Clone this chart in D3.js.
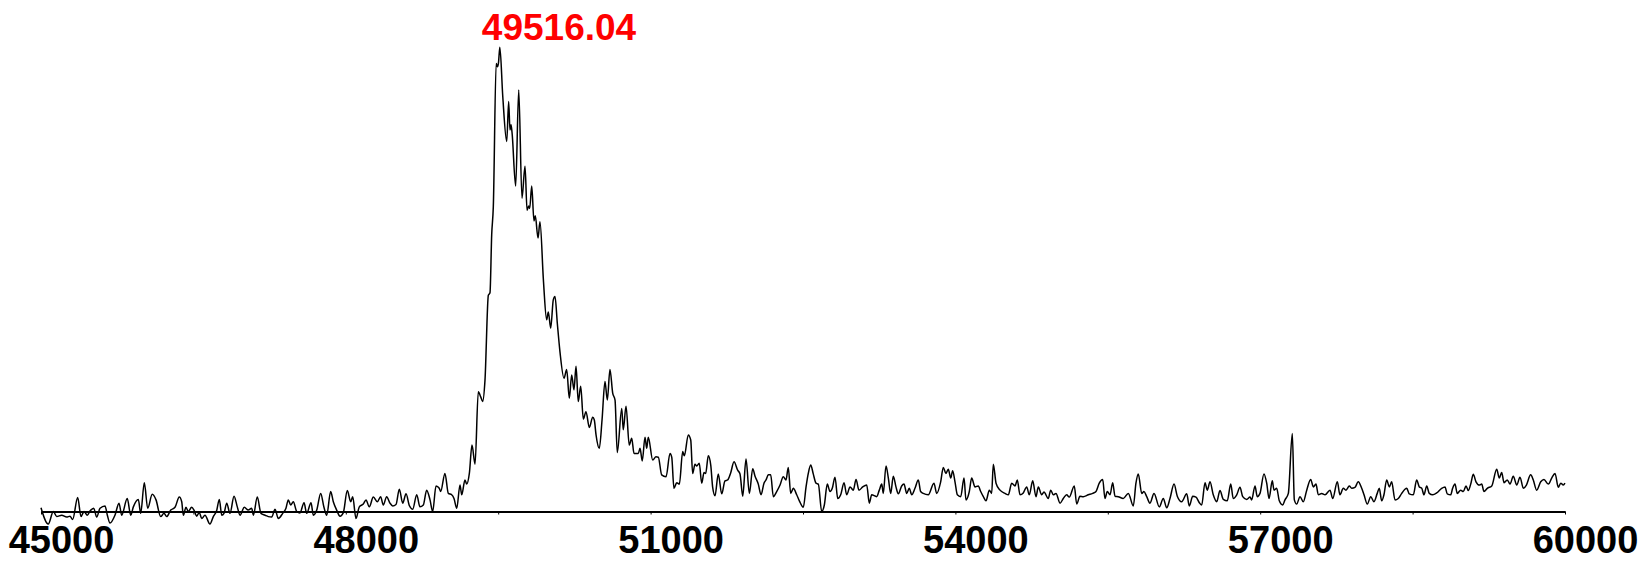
<!DOCTYPE html>
<html>
<head>
<meta charset="utf-8">
<script src="https://cdn.jsdelivr.net/npm/d3@7"></script>
<style>
  html, body { margin: 0; padding: 0; background: #fff; }
  svg { display: block; }
  .tick-label { font-family: "Liberation Sans", Arial, Helvetica, sans-serif; font-weight: bold; }
</style>
</head>
<body>
<svg id="chart" width="1649" height="561"></svg>
<script>
// Deconvoluted mass spectrum, 45 000 – 60 000 Da (relative intensity, %)
const masses = [
  45000,45072,45121,45155,45204,45253,45285,45312,45361,45394,45423,45456,45482,45519,45548,45581,45630,45653,45679,45728,
  45768,45794,45849,45883,45909,45958,45981,46017,46050,46095,46132,46178,46211,46237,46277,46319,46361,46385,46401,46427,
  46450,46483,46506,46532,46558,46582,46614,46663,46696,46729,46755,46779,46801,46828,46860,46900,46932,46959,47001,47040,
  47074,47090,47129,47165,47205,47237,47271,47303,47336,47379,47411,47434,47458,47483,47517,47549,47589,47615,47658,47680,
  47714,47753,47785,47812,47851,47877,47910,47943,47975,48015,48048,48068,48100,48133,48172,48199,48231,48271,48310,48343,
  48369,48402,48435,48462,48494,48527,48560,48593,48625,48659,48698,48730,48763,48796,48829,48855,48888,48920,48934,48976,
  49009,49042,49065,49092,49124,49141,49173,49190,49216,49242,49272,49304,49328,49347,49370,49403,49419,49436,49452,49480,
  49494,49503,49516.04,49545,49584,49603,49616,49626,49636,49672,49702,49734,49764,49784,49800,49810,49830,49852,49865,49892,
  49911,49944,49951,49977,49993,50017,50042,50059,50082,50108,50148,50174,50200,50223,50246,50266,50288,50312,50338,50364,
  50397,50430,50446,50463,50495,50522,50551,50574,50600,50627,50650,50672,50716,50731,50758,50790,50814,50837,50879,50896,
  50918,50945,50962,50977,51021,51053,51076,51109,51152,51191,51208,51230,51257,51283,51316,51332,51371,51395,51414,51437,
  51454,51479,51503,51526,51542,51568,51592,51611,51634,51666,51700,51732,51759,51788,51821,51857,51880,51907,51939,51972,
  52005,52028,52060,52087,52116,52136,52159,52182,52208,52241,52274,52306,52333,52355,52379,52405,52438,52464,52503,52530,
  52552,52576,52601,52628,52651,52684,52710,52739,52766,52788,52815,52842,52871,52904,52930,52963,52995,53022,53051,53088,
  53127,53153,53176,53225,53251,53275,53290,53317,53340,53363,53389,53415,53438,53471,53494,53521,53546,53570,53602,53635,
  53658,53684,53733,53789,53816,53855,53881,53907,53930,53954,53973,53996,54019,54052,54085,54104,54137,54160,54193,54225,
  54249,54275,54301,54334,54357,54373,54400,54439,54488,54521,54554,54587,54609,54636,54668,54702,54727,54761,54793,54816,
  54849,54872,54914,54938,54964,54990,55030,55062,55095,55121,55170,55194,55226,55259,55308,55351,55384,55416,55450,55472,
  55495,55522,55548,55571,55603,55652,55702,55751,55777,55800,55834,55856,55883,55915,55955,56007,56046,56080,56112,56152,
  56184,56227,56277,56302,56336,56368,56401,56424,56457,56479,56506,56538,56572,56604,56637,56676,56710,56735,56769,56801,
  56828,56867,56900,56916,56949,56971,56998,57037,57064,57087,57119,57136,57162,57188,57221,57244,57277,57316,57336,57359,
  57392,57424,57458,57497,57523,57549,57572,57605,57638,57687,57714,57759,57785,57818,57844,57877,57901,57933,57965,57999,
  58022,58054,58088,58120,58152,58172,58196,58218,58245,58271,58294,58327,58359,58393,58442,58467,58507,58540,58566,58590,
  58612,58639,58664,58698,58737,58786,58819,58841,58875,58894,58917,58940,58973,58999,59026,59048,59072,59097,59124,59157,
  59180,59203,59235,59279,59328,59353,59377,59400,59432,59459,59491,59525,59557,59590,59620,59662,59688,59721,59761,59793,
  59836,59869,59902,59934,59958,59983,60000
];

const intensities = [
  0.8,-2.7,0.0,-1.1,-0.8,-1.2,-1.0,-1.7,3.0,-1.1,0.0,-0.8,0.1,0.7,-1.2,0.7,1.2,-0.8,-2.5,-0.8,
  1.8,-0.8,2.8,-0.8,1.0,2.6,-0.4,6.2,0.7,3.7,2.5,-1.1,-0.4,-1.1,0.3,0.9,3.1,2.1,-0.8,0.9,
  0.0,0.9,0.3,-1.0,-0.2,-1.5,-0.8,-2.7,-1.1,0.2,2.6,-0.8,-0.4,1.8,-0.4,3.3,1.0,-0.8,0.9,0.3,
  0.7,-0.8,3.1,-0.4,-0.8,-1.1,-1.2,0.5,-1.5,-0.4,0.7,2.5,1.4,2.1,0.0,-0.3,1.9,-0.4,1.9,-0.8,
  0.3,3.9,0.9,-0.8,4.3,2.1,0.3,-1.0,-0.3,4.5,2.1,3.2,-1.5,1.0,1.6,2.5,1.0,3.1,2.1,3.2,
  1.4,3.2,1.8,1.2,1.5,4.8,1.8,3.8,1.3,0.5,3.6,1.0,1.4,4.6,2.5,0.0,5.5,5.0,4.3,8.2,
  3.9,3.6,2.8,0.7,5.7,3.6,6.8,5.9,8.2,14.3,10.2,25.8,24.7,23.7,28.3,46.6,47.1,59.6,65.7,96.5,
  95.8,96.7,100,89.4,79.7,88.3,82.2,83.3,81.7,70.1,90.8,67.5,74.4,64.9,65.8,65.3,70.1,62.6,63.7,58.9,
  62.4,50.2,47.7,41.3,43.0,39.5,45.6,46.3,40.5,34.4,28.7,30.6,24.4,29.4,26.2,31.3,23.7,27.0,19.9,21.5,
  18.1,20.3,19.7,16.5,13.6,19.7,28.0,24.0,30.6,25.5,24.0,12.7,22.2,17.6,22.7,14.3,15.8,12.5,12.5,13.6,
  10.9,16.0,13.6,16.0,11.1,11.8,11.7,7.9,7.5,12.5,11.7,5.0,6.2,5.9,12.9,12.0,16.5,15.4,8.2,10.2,
  9.8,10.4,6.1,8.4,8.2,12.0,10.0,5.2,3.4,8.1,3.8,6.6,6.8,8.3,10.7,8.9,8.1,3.3,11.3,3.9,
  9.2,7.6,5.9,3.6,6.1,6.8,7.9,7.9,3.2,4.3,5.7,7.5,6.8,9.5,3.9,5.0,3.6,2.3,0.9,5.3,
  8.2,10.0,8.1,6.1,5.9,0.0,1.4,5.9,4.3,5.0,7.4,2.8,3.6,6.2,3.6,5.3,4.6,6.9,4.6,5.3,
  5.7,1.8,3.6,3.2,4.6,5.9,3.9,9.8,7.2,3.9,7.6,5.3,3.8,5.5,5.9,3.9,5.0,3.6,5.0,6.8,
  4.3,3.9,3.6,6.1,3.9,6.4,9.5,8.2,9.1,7.2,8.8,6.4,3.6,3.2,7.2,2.5,4.3,7.2,5.3,5.5,
  4.3,3.2,2.3,4.6,3.9,10.2,6.1,4.6,3.9,3.6,6.1,5.5,6.8,3.6,4.0,5.3,3.6,6.6,3.2,5.3,
  3.6,4.2,2.8,4.6,3.6,3.9,1.8,2.8,3.6,3.1,5.5,1.6,3.3,3.2,3.6,3.9,4.3,6.1,6.9,2.8,
  4.3,3.6,6.2,3.3,3.2,2.8,3.9,1.2,6.1,8.1,3.9,4.3,3.2,1.8,3.9,1.0,2.8,0.8,2.8,5.9,
  3.3,2.1,3.8,1.2,3.3,3.1,1.9,1.4,6.2,4.6,6.4,3.6,2.1,4.5,2.6,2.3,5.9,2.8,3.6,5.2,
  3.2,2.6,3.1,2.5,5.5,3.2,3.9,8.1,6.1,2.8,6.6,4.6,5.0,2.3,1.4,2.5,3.9,16.8,2.5,1.6,
  3.2,2.1,4.6,6.9,5.3,5.9,3.6,3.9,3.6,4.6,2.8,6.4,3.6,5.0,4.6,5.5,5.0,5.2,6.4,5.0,
  3.6,1.6,3.2,2.1,3.9,5.0,2.3,3.6,6.8,5.3,6.4,2.5,2.8,3.9,5.0,3.8,3.6,6.8,5.3,5.0,
  3.6,5.5,3.9,3.6,4.0,5.0,5.3,3.8,3.6,5.0,5.9,3.9,4.6,4.3,5.5,4.5,5.9,8.0,6.4,5.7,
  5.9,4.3,5.0,5.5,9.1,7.2,8.4,6.2,6.8,5.9,7.6,5.7,7.4,5.0,5.7,7.9,6.8,4.6,6.4,6.9,
  5.9,7.2,8.2,5.2,6.1,5.7,6.1
];

// Axis ticks (every 1500 Da) and the labelled subset
const tickValues = [45000, 46500, 48000, 49500, 51000, 52500, 54000, 55500, 57000, 58500, 60000];
const tickLabels = ["45000", "48000", "51000", "54000", "57000", "60000"];

// Annotated apex
const peakMass = 49516.04;
const peakLabel = "49516.04";

const svg = d3.select("#chart");

const x = d3.scaleLinear().domain([45000, 60000]).range([41, 1565]);
const y = d3.scaleLinear().domain([0, 100]).range([511.5, 47.3]);

const spectrum = masses.map((m, i) => ({ m, v: intensities[i] }));

// Spectrum trace
svg.append("path")
  .datum(spectrum)
  .attr("fill", "none")
  .attr("stroke", "#000")
  .attr("stroke-width", 1.5)
  .attr("stroke-linejoin", "round")
  .attr("d", d3.line().x(d => x(d.m)).y(d => y(d.v)).curve(d3.curveMonotoneX));

// Mass axis
const axis = d3.axisBottom(x)
  .tickValues(tickValues)
  .tickSize(3)
  .tickSizeOuter(0)
  .tickFormat(d => tickLabels.includes(String(d)) ? String(d) : "");

const gx = svg.append("g")
  .attr("transform", `translate(0,${y(0)})`)
  .call(axis);

gx.select(".domain").attr("stroke", "#000").attr("stroke-width", 2);
gx.selectAll(".tick line").attr("stroke", "#000").attr("stroke-width", 1);
gx.selectAll(".tick text")
  .attr("class", "tick-label")
  .attr("fill", "#000")
  .attr("font-size", 38)
  .attr("y", 41.5)
  .attr("dy", 0)
  .attr("dx", 20);

// Apex annotation
svg.append("text")
  .attr("x", x(peakMass) - 18)
  .attr("y", y(100) - 7)
  .attr("text-anchor", "start")
  .attr("fill", "#ff0000")
  .attr("font-family", "'Liberation Sans', Arial, Helvetica, sans-serif")
  .attr("font-weight", "bold")
  .attr("font-size", 37)
  .text(peakLabel);
</script>
</body>
</html>
